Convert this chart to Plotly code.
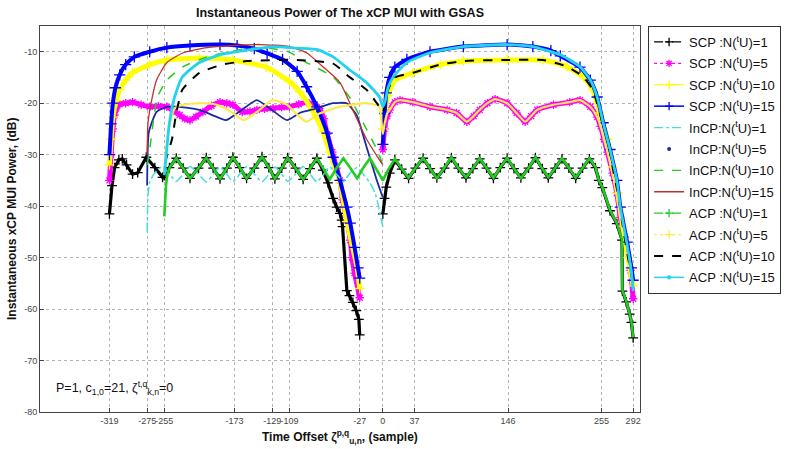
import plotly.graph_objects as go

# ---------------- data ----------------
# SCP  N=1  (black, dash-dot, '+')
scp1_x = [-319, -316, -313, -308, -304, -299, -292, -286, -276, -266, -257, -249, -241, -233, -225, -215, -206, -198,
          -190, -182, -175, -167, -159, -150, -141, -133, -126, -118, -111, -102, -93, -85, -77, -70, -64, -58, -54,
          -50, -48, -47, -42, -39, -35, -31, -28, -27,
          None,
          0, 2, 4, 8, 14, 22, 30, 38, 47, 55, 63, 72, 80, 88, 97, 105, 113, 121, 129, 137, 145, 153, 161, 170, 178,
          186, 193, 201, 209, 217, 225, 233, 241, 248, 252, 256, 265, 273, 279, 279.5, 284, 288, 290, 292]
scp1_y = [-41.5, -36, -32.5, -31, -30.8, -32, -33.8, -33.5, -30.5, -32.5, -34.4, -32.5, -30.7, -32.6, -34.6, -32.6,
          -30.6, -32.6, -34.7, -32.6, -30.5, -32.5, -34.6, -32.6, -30.4, -32.5, -34.7, -32.6, -30.6, -32.6, -34.8,
          -32.7, -30.7, -33, -35.5, -38.5, -40.2, -41.4, -42.7, -44, -56.4, -57.4, -58.7, -60.3, -62, -65,
          None,
          -41.5, -38.5, -36.3, -33.6, -31, -32.8, -34.6, -32.6, -30.7, -32.7, -34.5, -32.6, -30.6, -32.6, -34.5,
          -32.7, -30.8, -32.6, -34.6, -32.5, -30.7, -32.7, -34.5, -32.6, -30.6, -32.7, -34.5, -32.6, -30.8, -32.6,
          -34.6, -32.6, -30.8, -32.5, -35, -36.4, -40.9, -43.4, -46.6, -56.5, -58.6, -61, -62.6, -65.6]

# SCP  N=5  (magenta, dotted, '*')
scp5_x = [-319, -317, -315, -313, -307, -300, -292, -282, -272, -262, -252, -244, -237, -231, -225, -218, -210, -200,
          -190, -182, -175, -164, -155, -147, -138, -128, -118, -109, -98, -89, -80, -74, -69, -65, -59, -54, -50,
          -47, -42, -38, -36, -33, -27,
          None,
          0, 2, 5, 8, 14, 20, 35, 55, 75, 86, 98, 106, 113, 122, 131, 145, 156, 166, 173, 180, 199, 218, 230, 242,
          250, 254, 258, 262, 268, 273, 277, 282, 289, 292]
scp5_y = [-35, -30, -25, -22.3, -20.2, -20, -19.8, -20.3, -20.7, -20.6, -20.7, -21.5, -22.3, -23, -23.3, -22.6, -21.7,
          -20.5, -19.8, -20, -20.3, -21.7, -21.6, -21.3, -21.1, -21, -20.8, -20.7, -20.2, -19.8, -20.3, -21, -23,
          -26, -29.5, -32.6, -35, -38.8, -42.7, -46.6, -50, -53, -57.8,
          None,
          -29, -25, -22.5, -21.3, -19.8, -19.4, -19.8, -20.7, -21.3, -21.9, -23.6, -22.5, -21.3, -20, -19.2, -20,
          -21.9, -23.6, -22.5, -21.3, -20.3, -19.8, -19.4, -20.7, -22.7, -24.5, -27, -29.5, -33.6, -37.5, -42.2,
          -46, -52.5, -58]

# SCP  N=10 (yellow, '+')
scp10_x = [-319, -317, -315, -311, -307, -300, -292, -272, -252, -214, -175, -136, -109, -97, -82, -70, -62, -50,
           -42, -30, -27,
           None,
           0, 3, 6, 14, 35, 67, 94, 145, 187, 215, 234, 245, 253, 262, 268, 274, 280, 286, 292]
scp10_y = [-32, -27, -22.7, -19.5, -17.4, -15.5, -14.1, -12.5, -11.6, -11.2, -11.6, -13, -15.8, -17.8, -21.5, -25.5,
           -29.5, -35.5, -43, -52, -56,
           None,
           -25, -21, -18.5, -15.5, -14.1, -12.5, -11.8, -11.6, -11.6, -12.9, -14.9, -17.4, -21.9, -27, -32.4, -37.5,
           -44, -50, -55.5]

# SCP  N=15 (blue, '+')
scp15_x = [-319, -317, -315, -312, -307, -300, -290, -272, -252, -225, -190, -170, -150, -135, -117, -100, -89, -77,
           -65, -58, -50, -42, -38, -33, -29, -27,
           None,
           0, 2, 4, 8, 14, 28, 55, 94, 145, 175, 196, 207, 230, 242, 250, 257, 265, 273, 277, 285, 290, 292]
scp15_y = [-30, -24, -20, -17, -14.5, -12.5, -11, -10, -9.2, -8.8, -8.6, -8.8, -9.4, -10.3, -11.5, -13.8, -16.8,
           -20.7, -25.8, -30.5, -35, -40.2, -43.3, -48, -52, -54,
           None,
           -28, -22, -18, -15, -13, -11.5, -10, -9, -8.6, -9, -9.8, -10.8, -13, -15.5, -18.8, -23.8, -29, -35, -40.2,
           -47, -52, -54.4]

# InCP N=1  (cyan, dash-dot)
incp1_x = [-275, -274, -272, -266, -257, -249, -241, -233, -225, -215, -206, -198, -190, -182, -175, -167, -159,
           -150, -141, -133, -126, -118, -111, -102, -93, -85, -77, -69, -62, -54, -46, -38, -30, -22, -15, -9, -5,
           -2, 0]
incp1_y = [-45, -38, -35.3, -33.5, -32.3, -33.8, -35.2, -33.8, -32.3, -33.8, -35.3, -33.8, -32.4, -33.8, -35.2,
           -33.8, -32.3, -33.8, -35.3, -33.8, -32.4, -33.8, -35.2, -33.8, -32.3, -33.8, -35.3, -33.8, -32.4, -33.8,
           -35.2, -33.5, -32.5, -34, -35.5, -37.5, -40, -42.5, -44]

# InCP N=5  (dark blue dots)
incp5_x = [-275, -273, -264, -252, -237, -214, -199, -183, -168, -147, -132, -112, -97, -77, -58, -42, -35, -30,
           -19, -7, 0]
incp5_y = [-36, -25.6, -21.7, -20.7, -20.7, -21.3, -22.3, -23.3, -21.7, -19.4, -21, -23.3, -21.9, -21, -20, -20,
           -21.3, -22.5, -28.5, -35, -38.3]

# InCP N=10 (green, dashed)
incp10_x = [-275, -272, -268, -263, -252, -233, -205, -167, -143, -128, -110, -89, -58, -39, -23, -7, 0]
incp10_y = [-32, -29, -23.8, -18.8, -15.5, -12.9, -11, -9.6, -9.2, -9.4, -10, -12.1, -14.9, -18.8, -23.8, -29, -32]

# InCP N=15 (dark red, solid)
incp15_x = [-275, -274, -269, -264, -252, -233, -205, -175, -143, -109, -89, -70, -50, -35, -19, -4, 0]
incp15_y = [-30, -23.8, -18.8, -15.5, -12.1, -10.2, -9.2, -8.8, -8.6, -9, -10.2, -12.9, -16, -21.3, -27, -31, -32]

# ACP  N=1  (green, dash-dot)
acp1_x = [-255, -253, -251, -248, -241, -233, -225, -215, -206, -198, -190, -182, -175, -167, -159, -150, -141, -133,
          -126, -118, -111, -102, -93, -85, -77, -69, -62, -54, -46, -38, -30, -23, -15, -7, 0, 6, 14, 22, 30, 38,
          47, 55, 63, 72, 80, 88, 97, 105, 113, 121, 129, 137, 145, 153, 161, 170, 178, 186, 193, 201, 209, 217, 225,
          233, 241, 248, 252, 256, 265, 273, 279, 279.5, 284, 288, 290, 292]
acp1_y = [-42, -36, -33.5, -32.3, -30.7, -32.6, -34.6, -32.6, -30.6, -32.6, -34.7, -32.6, -30.5, -32.5, -34.6, -32.6,
          -30.4, -32.5, -34.7, -32.6, -30.6, -32.6, -34.8, -32.7, -30.7, -32.8, -34.8, -32.6, -30.7, -32.6, -34.6,
          -32.6, -30.7, -33, -35, -33, -30.8, -32.7, -34.5, -32.6, -30.6, -32.7, -34.6, -32.5, -30.5, -32.6, -34.4,
          -32.7, -30.7, -32.6, -34.5, -32.5, -30.6, -32.7, -34.6, -32.6, -30.5, -32.7, -34.4, -32.6, -30.7, -32.6,
          -34.5, -32.6, -30.7, -32.4, -35, -36.3, -40.8, -43.3, -46.5, -56.4, -58.5, -61, -62.5, -65.5]

# ACP  N=5  (pale yellow, dotted)
acp5_x = [-255, -253, -248, -243, -233, -213, -194, -175, -163, -147, -129, -112, -97, -89, -74, -50, -19, -4, -2, 0,
          2, 5, 8, 14, 20, 35, 55, 75, 86, 98, 106, 113, 122, 131, 145, 156, 166, 173, 180, 199, 218, 230, 242, 250,
          254, 258, 262, 268, 273, 277, 282, 289, 292]
acp5_y = [-33, -29, -23.8, -21, -20.3, -20, -20.3, -21.9, -23.3, -21.7, -19.4, -20.3, -22.7, -23.6, -22, -20.7, -20,
          -20.7, -23, -26, -24, -22, -21.3, -19.8, -19.4, -19.8, -20.7, -21.3, -21.9, -23.6, -22.5, -21.3, -20, -19.2,
          -20, -21.9, -23.6, -22.5, -21.3, -20.3, -19.8, -19.4, -20.7, -22.7, -24.5, -27, -29.5, -33.6, -37.5, -42.2,
          -46, -51.5, -56]

# ACP  N=10 (black, dashed)
acp10_x = [-255, -253, -246, -241, -234, -214, -187, -159, -100, -58, -39, -19, -4, 0, 3, 6, 14, 35, 67, 94, 145,
           187, 215, 234, 245, 253, 262, 268, 274, 280, 286, 292]
acp10_y = [-35, -31, -27, -21.9, -17.4, -14.1, -12.5, -11.8, -11.6, -12.3, -14.9, -17.4, -20.7, -21.7, -19.5, -17.4,
           -15, -14.1, -12.5, -11.8, -11.6, -11.6, -12.9, -14.9, -17.4, -21.9, -27, -32.4, -37.5, -44, -50, -55]

# ACP  N=15 (cyan, solid)
acp15_x = [-255, -253, -249, -243, -234, -214, -190, -155, -128, -100, -76, -58, -39, -19, -4, 0, 3, 6, 12, 28, 55,
           94, 145, 175, 207, 230, 242, 250, 257, 265, 273, 277, 285, 290, 292]
acp15_y = [-34, -30.5, -23.8, -18.8, -14.9, -12.1, -10.6, -9.6, -9, -9.3, -9.6, -11, -13.5, -16, -18.8, -20.7, -19.4,
           -17, -14.9, -12.1, -10.2, -9, -8.6, -9, -10.6, -12.9, -15.5, -18.8, -23.8, -29, -35, -40.2, -47.5, -53,
           -56.4]

x_ticks = [-319, -275, -255, -173, -129, -109, -27, 0, 37, 146, 255, 292]
y_ticks = [-80, -70, -60, -50, -40, -30, -20, -10]

names = ["SCP :N(<sup>t</sup>U)=1", "SCP :N(<sup>t</sup>U)=5", "SCP :N(<sup>t</sup>U)=10", "SCP :N(<sup>t</sup>U)=15",
         "InCP:N(<sup>t</sup>U)=1", "InCP:N(<sup>t</sup>U)=5", "InCP:N(<sup>t</sup>U)=10", "InCP:N(<sup>t</sup>U)=15",
         "ACP :N(<sup>t</sup>U)=1", "ACP :N(<sup>t</sup>U)=5", "ACP :N(<sup>t</sup>U)=10", "ACP :N(<sup>t</sup>U)=15"]

# ---------------- styles ----------------
series = [
    # x, y, color, plot dash, plot width, marker symbol, marker size, line shape
    (scp1_x, scp1_y, "#000000", "solid", 3.2, "cross-thin", 7, "linear"),
    (scp5_x, scp5_y, "#ff00ff", "solid", 5, "asterisk", 7, "spline"),
    (scp10_x, scp10_y, "#ffff00", "solid", 5, "cross-thin", 7, "spline"),
    (scp15_x, scp15_y, "#0000ff", "solid", 4, "cross-thin", 8, "spline"),
    (incp1_x, incp1_y, "#44dddd", "dashdot", 1.5, None, 0, "spline"),
    (incp5_x, incp5_y, "#1c2aa0", "solid", 1.8, None, 0, "spline"),
    (incp10_x, incp10_y, "#22cc22", "dash", 1.5, None, 0, "spline"),
    (incp15_x, incp15_y, "#c0302c", "solid", 1.3, None, 0, "spline"),
    (acp1_x, acp1_y, "#22cc22", "solid", 2.6, None, 0, "linear"),
    (acp5_x, acp5_y, "#ffe94a", "solid", 2.2, None, 0, "spline"),
    (acp10_x, acp10_y, "#000000", "dash", 2, None, 0, "spline"),
    (acp15_x, acp15_y, "#22d3f0", "solid", 2.8, None, 0, "spline"),
]
legend_dash = ["dashdot", "dot", "solid", "solid", "dashdot", "solid", "dash", "solid",
               "dashdot", "dot", "dash", "solid"]
legend_width = [1.2, 1.2, 1.2, 1.5, 1.2, 0, 1.2, 1.5, 1.2, 1.2, 2, 1.5]
legend_marker = ["cross-thin", "asterisk", "cross-thin", "cross-thin", None, "circle", None, None,
                 "cross-thin", "cross-thin", None, "circle"]

fig = go.Figure()
for (x, y, col, dash, w, sym, msz, shape) in series:
    line = dict(color=col, width=w, dash=dash, shape=shape)
    if shape == "spline":
        line["smoothing"] = 0.5
    if sym:
        fig.add_trace(go.Scatter(x=x, y=y, mode="lines+markers", showlegend=False, line=line,
                                 marker=dict(symbol=sym, size=msz, color=col, line=dict(color=col, width=1.3))))
    else:
        fig.add_trace(go.Scatter(x=x, y=y, mode="lines", showlegend=False, line=line))

# legend proxies
for i, s in enumerate(series):
    col = s[2]
    mode = "lines"
    kw = {}
    if i == 5:
        mode = "markers"
        kw["marker"] = dict(symbol="circle", size=4, color=col)
    elif legend_marker[i]:
        mode = "lines+markers"
        kw["marker"] = dict(symbol=legend_marker[i], size=6 if legend_marker[i] != "circle" else 3,
                            color=col, line=dict(color=col, width=1.3))
    fig.add_trace(go.Scatter(x=[None], y=[None], mode=mode, name=names[i], legendgroup=f"g{i}",
                             line=dict(color=col, width=max(legend_width[i], 0.5), dash=legend_dash[i]), **kw))

font_family = "Arial, Liberation Sans, Helvetica, sans-serif"
fig.update_layout(
    width=786, height=449,
    margin=dict(l=40, r=146, t=26, b=37, autoexpand=False),
    paper_bgcolor="white", plot_bgcolor="white",
    font=dict(family=font_family, color="#222"),
    title=dict(text="<b>Instantaneous Power of The xCP MUI with GSAS</b>", x=340 / 786, xanchor="center",
               y=1 - 13 / 449, yanchor="middle", font=dict(size=12.5, color="#111")),
    legend=dict(x=1.0135, y=1.0, xanchor="left", yanchor="top", bordercolor="#333", borderwidth=1,
                bgcolor="white", font=dict(size=13, color="#111"), tracegroupgap=1.5,
                itemwidth=30),
    showlegend=True,
)
fig.update_xaxes(range=[-400, 300], tickvals=x_ticks, ticktext=[str(v) for v in x_ticks], tickangle=0,
                 showgrid=True, gridcolor="#b5b5b5", griddash="dot", gridwidth=1,
                 ticks="inside", ticklen=4, tickcolor="#444", showline=True, linecolor="#444", linewidth=1,
                 mirror=True, zeroline=False, tickfont=dict(size=9, color="#444"))
fig.update_yaxes(range=[-80, -5], tickvals=y_ticks, ticktext=[str(v) for v in y_ticks],
                 showgrid=True, gridcolor="#b5b5b5", griddash="dot", gridwidth=1,
                 ticks="inside", ticklen=4, tickcolor="#444", showline=True, linecolor="#444", linewidth=1,
                 mirror=True, zeroline=False, tickfont=dict(size=9, color="#444"))

fig.add_annotation(text="<b>Time Offset ζ<sup>p,q</sup><sub>u,n</sub>, (sample)</b>", xref="paper", yref="paper",
                   x=0.5, y=-(437 - 412) / 386, xanchor="center", yanchor="middle", showarrow=False,
                   font=dict(size=12, color="#111"))
fig.add_annotation(text="<b>Instantaneous xCP MUI Power, (dB)</b>", xref="paper", yref="paper",
                   x=-(40 - 12) / 600, y=0.5, xanchor="center", yanchor="middle", textangle=-90, showarrow=False,
                   font=dict(size=12, color="#111"))
fig.add_annotation(text="P=1, c<sub>1,0</sub>=21, ζ<sup>t,q</sup><sub>k,n</sub>=0", xref="paper", yref="paper",
                   x=(54 - 40) / 600, y=(412 - 388) / 386, xanchor="left", yanchor="middle", showarrow=False,
                   font=dict(size=12.5, color="#111"))

fig.write_html("out.html")
